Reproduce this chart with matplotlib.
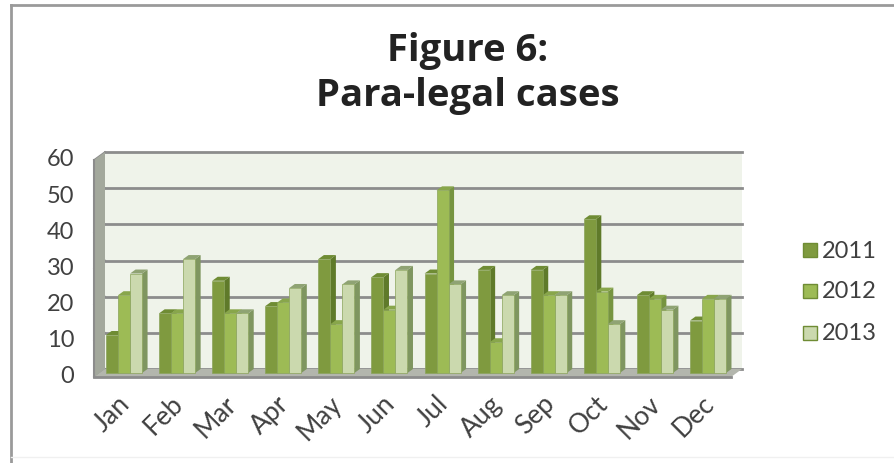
import numpy as np
import matplotlib
matplotlib.use('Agg')
import matplotlib.pyplot as plt
from matplotlib.patches import Polygon, Rectangle

months = ['Jan', 'Feb', 'Mar', 'Apr', 'May', 'Jun', 'Jul', 'Aug', 'Sep', 'Oct', 'Nov', 'Dec']
years = ['2011', '2012', '2013']
cases_2011 = [10, 16, 25, 18, 31, 26, 27, 28, 28, 42, 21, 14]
cases_2012 = [21, 16, 16, 19, 13, 17, 50, 8, 21, 22, 20, 20]
cases_2013 = [27, 31, 16, 23, 24, 28, 24, 21, 21, 13, 17, 20]

W, H = 895, 463
plt.rcParams['font.family'] = ['Lato', 'DejaVu Sans']

front_cols = ['#7f9a3f', '#9dbb55', '#cbd9ae']
side_cols = ['#5f7a2a', '#769440', '#7f9660']
top_cols = ['#6f8c34', '#88a64b', '#8fa373']
text_col = '#404040'

fig = plt.figure(figsize=(W / 100, H / 100), dpi=100, facecolor='white')
# whole figure in pixels for the frame
bg = fig.add_axes([0, 0, 1, 1])
bg.set_xlim(0, W)
bg.set_ylim(H, 0)
bg.axis('off')
bg.plot([11, 11], [463, 5], color='#9a9a9a', lw=2)
bg.plot([11, 895], [5, 5], color='#9a9a9a', lw=2)
bg.plot([11, 895], [457, 457], color='#f0f0f0', lw=1)

# axes = back wall of the 3d box
left, right, top, bottom = 105, 742, 152, 369
ax = fig.add_axes([left / W, 1 - bottom / H, (right - left) / W, (bottom - top) / H])
ax.set_xlim(0, 12)
ax.set_ylim(0, 60)
ax.set_facecolor('#eff3ea')
for s in ax.spines.values():
    s.set_visible(False)

dx = 11 / 53.08     # depth of the box, in x units
dy = 8 / 3.617      # depth of the box, in value units
ax.set_yticks(np.arange(0, 61, 10))
ax.set_xticks([])
ax.tick_params(axis='y', length=0, labelleft=False)
for v in range(0, 61, 10):
    ax.plot([0, 12], [v, v], color='#8c8c8c', lw=2, zorder=1, clip_on=False)
    ax.plot([-dx, 0], [v - dy, v], color='#8c8c8c', lw=1.2, zorder=1, clip_on=False)
    ax.text(-0.58, v - dy, str(v), ha='right', va='center', fontsize=17, color=text_col)

# side wall and floor
ax.add_patch(Polygon([(-dx, -dy), (0, 0), (0, 60), (-dx, 60 - dy)], closed=True,
                     facecolor='#a3a89c', edgecolor='none', zorder=2, clip_on=False))
ax.add_patch(Polygon([(-dx, -dy), (0, 0), (12, 0), (12 - dx, -dy)], closed=True,
                     facecolor='#b3b6ad', edgecolor='none', zorder=2, clip_on=False))
ax.plot([-dx, 12 - dx], [-dy, -dy], color='#8c8c8c', lw=2, zorder=2, clip_on=False)
ax.plot([-dx, -dx], [-dy, 60 - dy], color='#8c8c8c', lw=1.5, zorder=2, clip_on=False)

bw = 12 / 53.08
bar_dx = 5.5 / 53.08
bar_dy = 4 / 3.617
base = -1.1
lift = 0.5      # tops sit slightly above the bar foot level
series = [cases_2011, cases_2012, cases_2013]
for m in range(len(months)):
    for i, vals in enumerate(series):
        v = vals[m]
        x0 = m + 0.02 + i * bw
        x1 = x0 + bw
        z = 3 + m + i * 0.1
        y1 = base + lift + v
        ax.bar(x0, v + lift, width=bw, bottom=base, align='edge', color=front_cols[i],
               edgecolor='#8aa35a', linewidth=0.5, zorder=z + 0.02, clip_on=False)
        ax.add_patch(Polygon([(x1, base), (x1 + bar_dx, base + bar_dy), (x1 + bar_dx, y1 + bar_dy), (x1, y1)],
                             closed=True, facecolor=side_cols[i], edgecolor='none', zorder=z, clip_on=False))
        ax.add_patch(Polygon([(x0, y1), (x0 + bar_dx, y1 + bar_dy), (x1 + bar_dx, y1 + bar_dy), (x1, y1)],
                             closed=True, facecolor=top_cols[i], edgecolor='none', zorder=z + 0.01, clip_on=False))

for m, name in enumerate(months):
    ax.text(m + 0.23, -6.1, name, rotation=45, ha='right', va='top', rotation_mode='anchor',
            fontsize=19, color=text_col, clip_on=False)

# title and legend in pixel coordinates
bg.text(467.5, 61, 'Figure 6:', ha='center', va='baseline', fontsize=27.5,
        fontweight='bold', color='#222222', family='Open Sans')
bg.text(467.5, 106, 'Para-legal cases', ha='center', va='baseline', fontsize=27.5,
        fontweight='bold', color='#222222', family='Open Sans')
for i, (y, name) in enumerate(zip([250, 291, 333], years)):
    bg.add_patch(Rectangle((803, y - 7), 14, 14, facecolor=front_cols[i], edgecolor='#6f8c34', lw=1))
    bg.text(822, y + 1, name, ha='left', va='center', fontsize=17, color=text_col)

fig.savefig('out.png', dpi=100)
